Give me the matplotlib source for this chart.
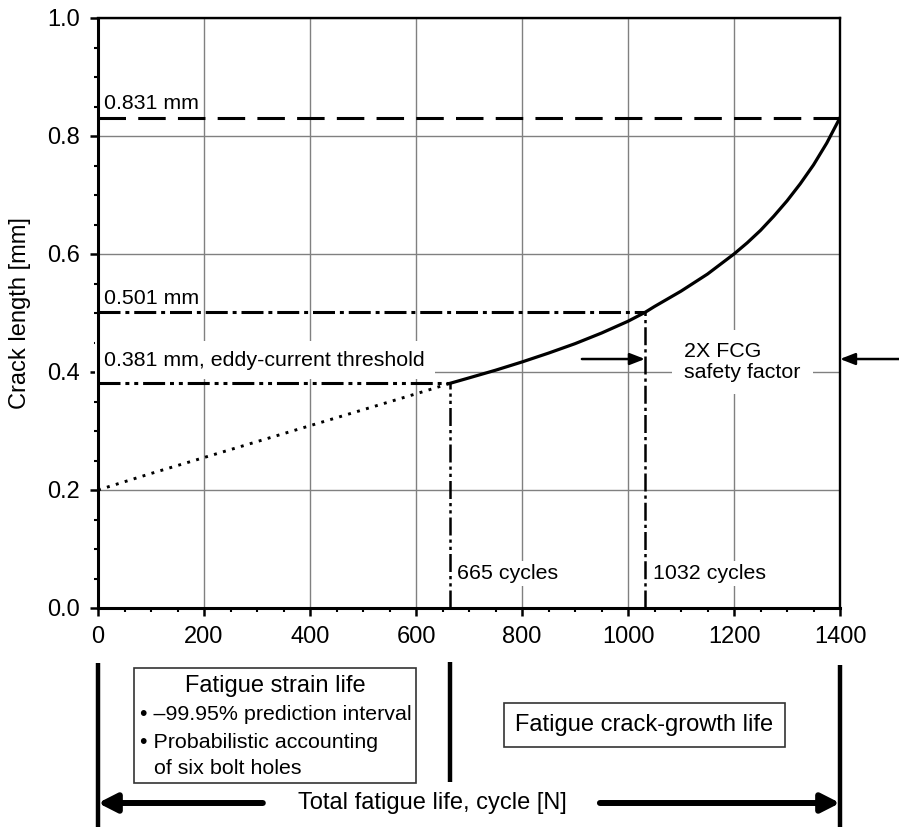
import matplotlib.pyplot as plt
from matplotlib.patches import Rectangle
from matplotlib.ticker import MultipleLocator
from matplotlib.transforms import blended_transform_factory

plt.rcParams['font.family'] = ['Liberation Sans', 'DejaVu Sans']

# crack sizes (mm) and cycle counts
a_threshold = 0.381
a_inspect = 0.501
a_final = 0.831
n_threshold = 665
n_inspect = 1032
n_total = 1400

# fatigue strain life part (dotted, below detection threshold)
strain_cycles = [0, 100, 200, 300, 400, 500, 600, 665]
strain_crack = [0.200, 0.228, 0.255, 0.282, 0.309, 0.336, 0.363, 0.381]

# fatigue crack-growth part
fcg_cycles = [665, 700, 750, 800, 850, 900, 950, 1000, 1032, 1050, 1100, 1150,
              1200, 1225, 1250, 1275, 1300, 1325, 1350, 1375, 1400]
fcg_crack = [0.381, 0.390, 0.403, 0.417, 0.432, 0.448, 0.466, 0.486, 0.501,
             0.511, 0.537, 0.566, 0.600, 0.619, 0.640, 0.664, 0.690, 0.719,
             0.751, 0.788, 0.831]

x_ticks = [0, 200, 400, 600, 800, 1000, 1200, 1400]
y_ticks = [0.0, 0.2, 0.4, 0.6, 0.8, 1.0]

W, H = 899, 827
fig = plt.figure(figsize=(W / 100, H / 100), dpi=100)
ax = fig.add_axes([98 / W, 1 - 608 / H, (840 - 98) / W, (608 - 18) / H])

dash = (0, (9, 4))
dashdot = (0, (7.2, 1.6, 1.3, 1.6))
dashdotdot = (0, (7.2, 1.6, 1.3, 1.6, 1.3, 1.6))

# reference levels
ax.plot([0, n_total], [a_final, a_final], color='k', lw=2.2, ls=dash, zorder=3)
ax.plot([0, n_inspect], [a_inspect, a_inspect], color='k', lw=2.2, ls=dashdot, zorder=3)
ax.plot([n_inspect, n_inspect], [0, a_inspect], color='k', lw=1.8, ls=dashdot, zorder=3)
ax.plot([0, n_threshold], [a_threshold, a_threshold], color='k', lw=2.2, ls=dashdotdot, zorder=3)
ax.plot([n_threshold, n_threshold], [0, a_threshold], color='k', lw=1.8, ls=dashdotdot, zorder=3)

# crack length curves
ax.plot(strain_cycles, strain_crack, color='k', lw=2.1, ls=(0, (1, 2.2)), zorder=4)
ax.plot(fcg_cycles, fcg_crack, color='k', lw=2.3, zorder=4,
        solid_joinstyle='round')

ax.set_xlim(0, 1400)
ax.set_ylim(0, 1.0)
ax.set_xticks(x_ticks)
ax.set_yticks(y_ticks)
ax.set_yticklabels([f'{v:.1f}' for v in y_ticks])
ax.xaxis.set_minor_locator(MultipleLocator(50))
ax.yaxis.set_minor_locator(MultipleLocator(0.05))
ax.tick_params(which='major', direction='out', length=6, width=1.8,
               labelsize=17, pad=7)
ax.tick_params(which='minor', direction='out', length=3, width=1.5)
ax.grid(True, which='major', color='#808080', lw=1.0)
ax.set_axisbelow(True)
for side in ['left', 'bottom']:
    ax.spines[side].set_linewidth(2.2)
for side in ['top', 'right']:
    ax.spines[side].set_linewidth(1.7)
ax.set_ylabel('Crack length [mm]', fontsize=17)
ax.yaxis.set_label_coords(-0.09, 0.5)

fs = 15.4
white = dict(facecolor='white', edgecolor='none', pad=7)
ax.text(12, 0.855, '0.831 mm', fontsize=fs, va='center', ha='left')
ax.text(12, 0.525, '0.501 mm', fontsize=fs, va='center', ha='left')
ax.text(12, 0.420, '0.381 mm, eddy-current threshold', fontsize=fs,
        va='center', ha='left', bbox=white, zorder=2)
ax.text(677, 0.058, '665 cycles', fontsize=fs, va='center', ha='left',
        bbox=dict(facecolor='white', edgecolor='none', pad=2), zorder=2)
ax.text(1047, 0.058, '1032 cycles', fontsize=fs, va='center', ha='left',
        bbox=dict(facecolor='white', edgecolor='none', pad=2), zorder=2)
ax.text(1106, 0.417, '2X FCG\nsafety factor', fontsize=fs, va='center',
        ha='left', linespacing=1.1, bbox=dict(facecolor='white', edgecolor='none', pad=9),
        zorder=2)

small_arrow = dict(arrowstyle='-|>,head_length=0.9,head_width=0.35', color='k',
                   lw=1.8, mutation_scale=10, shrinkA=0, shrinkB=0)
ax.annotate('', xy=(n_inspect, 0.422), xytext=(913, 0.422),
            arrowprops=small_arrow, zorder=5)
ax.annotate('', xy=(n_total, 0.422), xytext=(1530, 0.422),
            arrowprops=small_arrow, annotation_clip=False, zorder=5)

# life breakdown below the axis: x in cycles, y in figure fraction
trans = blended_transform_factory(ax.transData, fig.transFigure)


def fy(px):
    return 1 - px / H


for xv, top, bot in [(0, 663, 827), (n_threshold, 662, 782), (n_total, 665, 827)]:
    ax.plot([xv, xv], [fy(top), fy(bot)], color='k', lw=3.2, transform=trans,
            clip_on=False, solid_capstyle='butt')

ax.add_patch(Rectangle((68, fy(783)), 600 - 68, fy(668) - fy(783), transform=trans,
                       fill=False, edgecolor='#333333', lw=1.2, clip_on=False))
ax.add_patch(Rectangle((766, fy(747)), 1296 - 766, fy(703) - fy(747), transform=trans,
                       fill=False, edgecolor='#333333', lw=1.2, clip_on=False))

ax.text(334, fy(686), 'Fatigue strain life', transform=trans, fontsize=17,
        ha='center', va='center')
ax.text(79, fy(715), '\u2022 \u201399.95% prediction interval', transform=trans,
        fontsize=fs, ha='left', va='center')
ax.text(79, fy(743), '\u2022 Probabilistic accounting', transform=trans,
        fontsize=fs, ha='left', va='center')
ax.text(106, fy(768), 'of six bolt holes', transform=trans,
        fontsize=fs, ha='left', va='center')
ax.text(1031, fy(725), 'Fatigue crack-growth life', transform=trans,
        fontsize=17, ha='center', va='center')
ax.text(630, fy(803), 'Total fatigue life, cycle [N]', transform=trans,
        fontsize=17, ha='center', va='center')

big_arrow = dict(arrowstyle='-|>,head_length=0.55,head_width=0.28', color='k',
                 lw=4.3, mutation_scale=20, shrinkA=0, shrinkB=0)
ax.annotate('', xy=(0, fy(803)), xytext=(311, fy(803)), xycoords=trans,
            textcoords=trans, arrowprops=big_arrow, annotation_clip=False)
ax.annotate('', xy=(n_total, fy(803)), xytext=(947, fy(803)), xycoords=trans,
            textcoords=trans, arrowprops=big_arrow, annotation_clip=False)

ax.set_xlim(0, 1400)
ax.set_ylim(0, 1.0)
fig.savefig('out.png', dpi=100, facecolor='white')
